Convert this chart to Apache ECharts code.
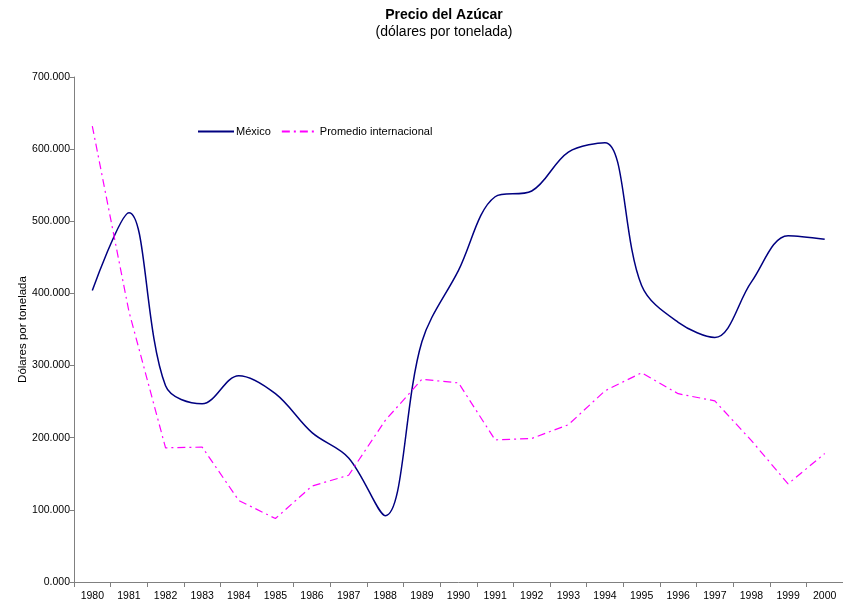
<!DOCTYPE html>
<html>
<head>
<meta charset="utf-8">
<script src="https://cdn.jsdelivr.net/npm/echarts@6/dist/echarts.min.js"></script>
<style>
html,body{margin:0;padding:0;background:#fff;}
#c{width:843px;height:605px;}
</style>
</head>
<body>
<div id="c"></div>
<script>
const years = ['1980','1981','1982','1983','1984','1985','1986','1987','1988','1989','1990','1991','1992','1993','1994','1995','1996','1997','1998','1999','2000'];
const mexico = [404, 512, 272, 247, 286, 261, 207, 172, 92, 333, 432, 534, 542, 596, 609, 411, 360, 339, 416, 480, 475];
const promedio = [632, 375, 186, 187, 113, 88, 133, 148, 224, 281, 276, 197, 199, 218, 265, 290, 261, 251, 196, 136, 178];
const yTicks = [0, 100, 200, 300, 400, 500, 600, 700];

const FONT = 'Liberation Sans, Arial, sans-serif';
const chart = echarts.init(document.getElementById('c'));
chart.setOption({
  backgroundColor: '#ffffff',
  animation: false,
  title: {
    text: 'Precio del Azúcar',
    subtext: '(dólares por tonelada)',
    left: 439,
    textAlign: 'center',
    top: 3,
    itemGap: 3,
    textStyle: {fontFamily: FONT, fontSize: 14, fontWeight: 'bold', color: '#000'},
    subtextStyle: {fontFamily: FONT, fontSize: 14, color: '#000'}
  },
  legend: {
    left: 197,
    top: 126,
    padding: 0,
    itemWidth: 36,
    itemHeight: 12,
    itemGap: 10,
    itemStyle: {opacity: 0},
    textStyle: {fontFamily: FONT, fontSize: 11, color: '#000', padding: [0,0,0,-3]},
    data: ['México', 'Promedio internacional']
  },
  grid: {left: 74, right: 0, top: 77, bottom: 23, containLabel: false},
  xAxis: {
    type: 'category',
    data: years,
    boundaryGap: true,
    axisLine: {lineStyle: {color: '#808080', width: 1}},
    axisTick: {show: true, length: 5, lineStyle: {color: '#808080'}},
    axisLabel: {fontFamily: FONT, fontSize: 10.5, color: '#000', margin: 9, interval: 0},
    splitLine: {show: false}
  },
  yAxis: {
    type: 'value',
    min: yTicks[0],
    max: yTicks[yTicks.length - 1],
    interval: 100,
    name: 'Dólares por tonelada',
    nameLocation: 'middle',
    nameGap: 45,
    nameMoveOverlap: false,
    nameTextStyle: {fontFamily: FONT, fontSize: 11.5, color: '#000'},
    axisLine: {show: true, lineStyle: {color: '#808080', width: 1}},
    axisTick: {show: true, length: 4, lineStyle: {color: '#808080'}},
    axisLabel: {fontFamily: FONT, fontSize: 10.5, color: '#000', margin: 4, formatter: v => v.toFixed(3)},
    splitLine: {show: false}
  },
  series: [
    {
      name: 'México',
      type: 'line',
      data: mexico,
      smooth: 0.35,
      symbol: 'none',
      itemStyle: {color: '#000080'},
      lineStyle: {color: '#000080', width: 1.5}
    },
    {
      name: 'Promedio internacional',
      type: 'line',
      data: promedio,
      smooth: false,
      symbol: 'none',
      itemStyle: {color: '#ff00ff'},
      lineStyle: {color: '#ff00ff', width: 1.2, type: [8, 4, 2, 4]}
    }
  ]
});
</script>
</body>
</html>
